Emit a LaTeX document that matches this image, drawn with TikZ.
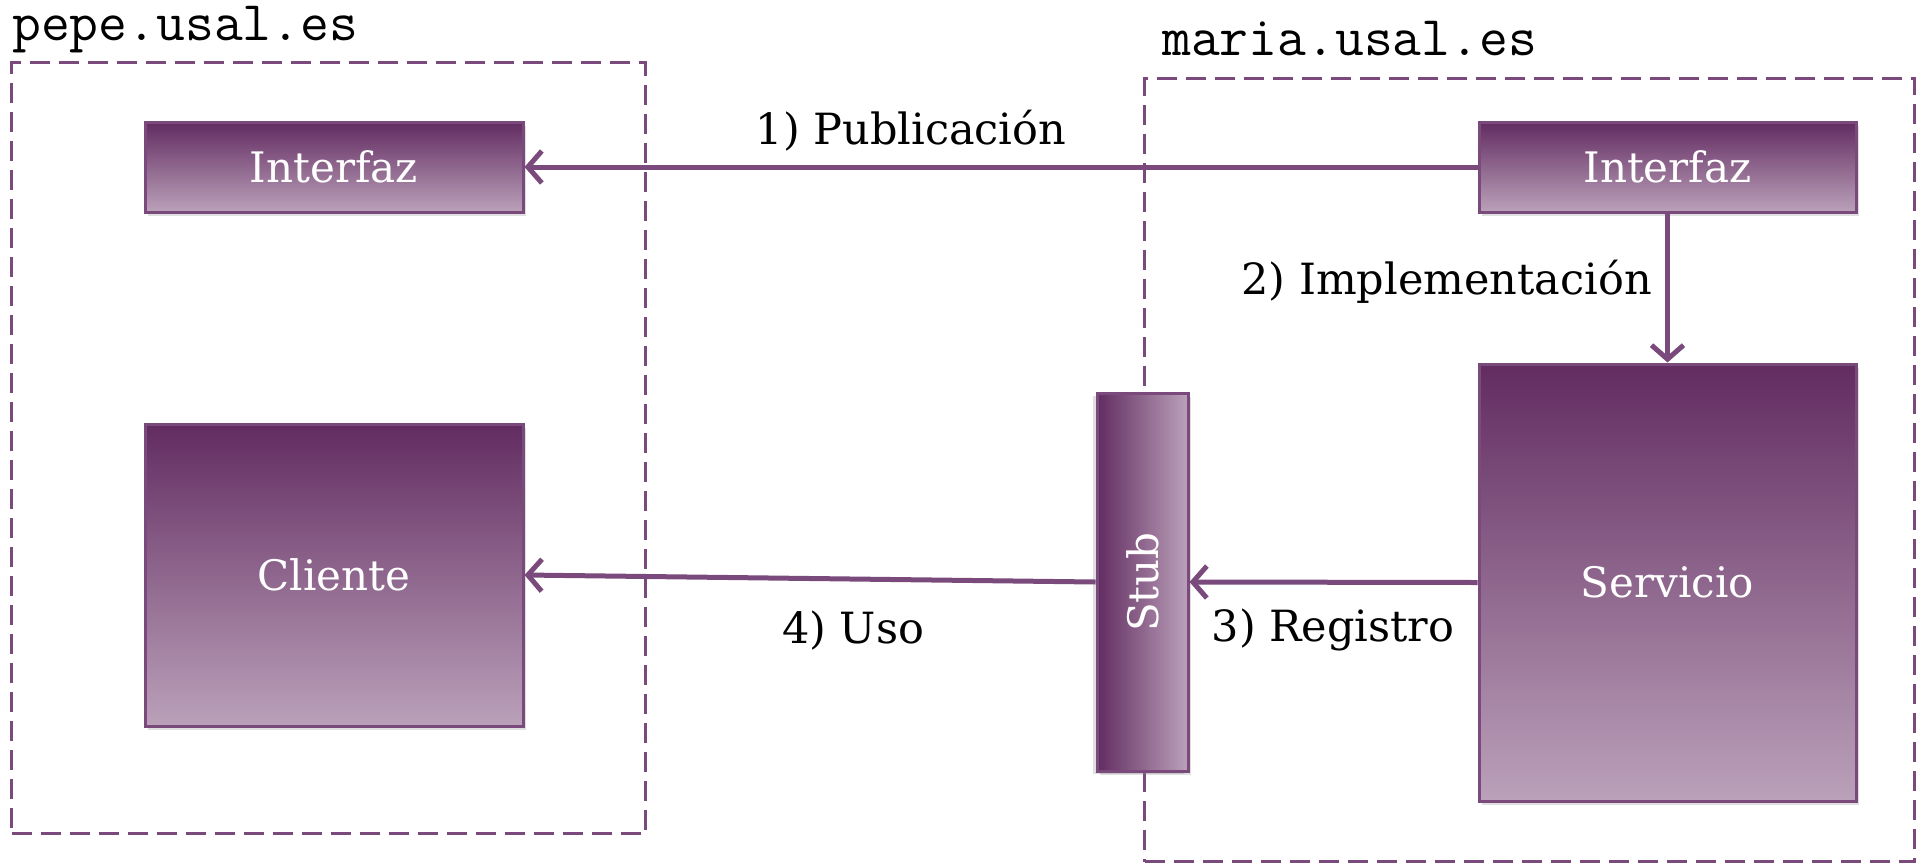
\documentclass[tikz,border=0pt]{standalone}
\usepackage{fontspec}
\setmainfont{DejaVu Serif}
\usetikzlibrary{arrows.meta,shadows}
\definecolor{pline}{HTML}{7B4A7C}
\definecolor{pdark}{HTML}{622C61}
\definecolor{plight}{HTML}{BBA1BA}
\tikzset{
 box/.style={draw=pline, line width=3pt, top color=pdark, bottom color=plight, text=white,
   font=\fontsize{42}{48}\selectfont, inner sep=0pt,
   drop shadow={shadow xshift=3pt, shadow yshift=-4pt, opacity=0.25}},
 zone/.style={draw=pline, line width=3pt, dash pattern=on 20pt off 9pt, inner sep=0pt, anchor=north west},
 arr/.style={draw=pline, line width=5pt, -{Straight Barb[length=14pt, width=32pt, line width=5pt]}},
 lbl/.style={font=\fontsize{43}{49}\selectfont, text=black, inner sep=0pt},
 host/.style={font=\ttfamily\fontsize{56}{60}\selectfont, anchor=base west, inner sep=0pt}
}
\begin{document}
\begin{tikzpicture}[x=1pt,y=-1pt]
\useasboundingbox (0,0) rectangle (1926,865);
% zones
\node[zone, minimum width=634pt, minimum height=771pt] (pepe) at (10,61) {};
\node[zone, minimum width=770pt, minimum height=783pt] (maria) at (1143,77) {};
\node[host] (pepelbl) at (12,40) {pepe.usal.es};
\node[host] (marialbl) at (1162,55) {maria.usal.es};
% boxes
\node[box, minimum width=378pt, minimum height=90pt] (ifL) at (334,167) {Interfaz};
\node[box, minimum width=378pt, minimum height=302pt] (cli) at (334,575) {Cliente};
\node[box, minimum width=377pt, minimum height=90pt] (ifR) at (1667.5,167) {Interfaz};
\node[box, minimum width=377pt, minimum height=437pt] (serv) at (1667.5,582.5) {Servicio};
\node[box, rotate=90, left color=pdark, right color=plight, minimum width=378pt, minimum height=91pt,
      drop shadow={shadow xshift=-4pt, shadow yshift=-3pt, opacity=0.25}] (stub) at (1142.5,582) {Stub};
% connectors
\draw[arr] (ifR.west) -- (ifL.east);
\draw[arr] (ifR.south) -- (serv.north);
\draw[arr] (serv.west) -- (stub.south);
\draw[arr] (stub.north) -- (cli.east);
% labels
\node[lbl] (l1) at (911,131) {1) Publicación};
\node[lbl, anchor=east] (l2) at (1652,282) {2) Implementación};
\node[lbl] (l3) at (1333,630) {3) Registro};
\node[lbl] (l4) at (853,631) {4) Uso};
\end{tikzpicture}
\end{document}
